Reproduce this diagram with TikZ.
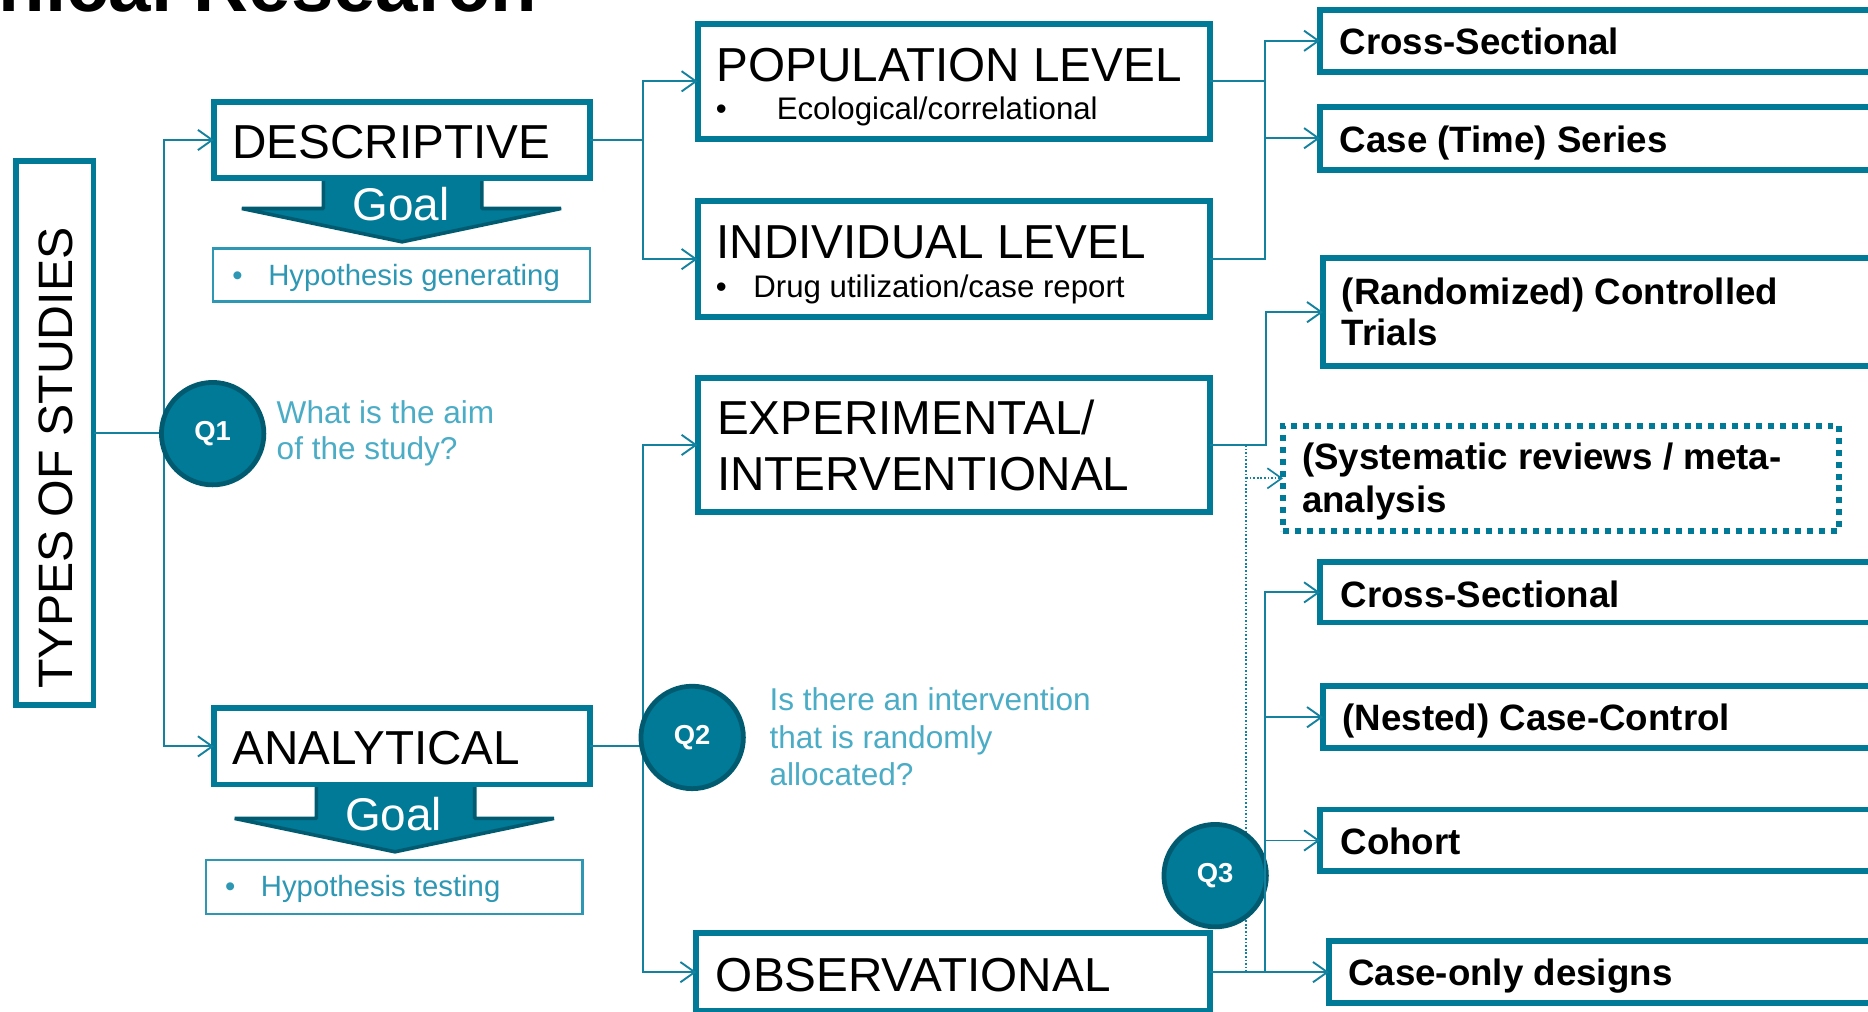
\documentclass[tikz,border=0pt]{standalone}
\usepackage{fontspec}
\setmainfont{Liberation Sans}
\usetikzlibrary{arrows.meta}

\definecolor{teal}{RGB}{0,122,150}
\definecolor{darkteal}{RGB}{0,90,112}
\definecolor{linec}{RGB}{20,130,158}
\definecolor{qc}{RGB}{75,172,198}
\definecolor{hypc}{RGB}{46,152,180}

% box from outer corners (x1,y1)-(x2,y2) with a given stroke width
\newcommand\placebox[7]{%
  \node[#1, minimum width={#5-#3-#7}, minimum height={#6-#4-#7}] (#2)
    at ({(#3+#5)/2},{(#4+#6)/2}) {};}

\tikzset{
  boxframe/.style={draw=teal, line width=5pt, rectangle, inner sep=0pt, outer sep=0pt, fill=white},
  thinframe/.style={draw=hypc, line width=2pt, rectangle, inner sep=0pt, outer sep=0pt},
  dotframe/.style={draw=teal, line width=5pt, dash pattern=on 5pt off 5pt, rectangle, inner sep=0pt, outer sep=0pt},
  qcircle/.style={circle, fill=teal, draw=darkteal, line width=4pt, minimum size=86pt, inner sep=0pt,
    text=white, font=\fontsize{23}{23}\selectfont\bfseries},
  goalarrow/.style={fill=teal, draw=darkteal, line width=3pt, line join=bevel},
  goaltext/.style={text=white, anchor=base, inner sep=0pt, font=\fontsize{38.5}{38.5}\selectfont},
  conn/.style={draw=linec, line width=1.6pt},
  arr/.style={conn, -{Straight Barb[length=12pt,width=17pt]}},
  dotconn/.style={draw=linec, line width=1.4pt, dash pattern=on 1.4pt off 1.6pt},
  txt/.style={anchor=base west, inner sep=0pt, outer sep=0pt},
  bigtxt/.style={txt, font=\fontsize{40}{40}\selectfont},
  smalltxt/.style={txt, font=\fontsize{26.2}{26.2}\selectfont},
  hyptxt/.style={txt, text=hypc, font=\fontsize{24.6}{24.6}\selectfont},
  boldtxt/.style={txt, font=\fontsize{30.8}{30.8}\selectfont\bfseries},
  qtxt/.style={txt, text=qc, font=\fontsize{26.5}{26.5}\selectfont},
}

\begin{document}
\begin{tikzpicture}[x=1pt,y=-1pt]
\useasboundingbox (0,0) rectangle (1568,849);
\clip (0,0) rectangle (1568,849);

% heading, mostly above the page
\node[anchor=base east, inner sep=0pt, font=\fontsize{64}{64}\selectfont\bfseries] (title) at (451,10) {Clinical Research};

% goal arrows below the two main branches
\draw[goalarrow] (271.5,150) -- (404.5,150) -- (404.5,175) -- (471,175) -- (337.5,203)
  -- (203,175) -- (271.5,175) -- cycle;
\draw[goalarrow] (265.5,659) -- (398.5,659) -- (398.5,687) -- (465,687) -- (331.5,715)
  -- (197,687) -- (265.5,687) -- cycle;

% boxes
\placebox{boxframe}{types}{11}{133}{81}{594}{5}
\placebox{boxframe}{desc}{177}{83}{498}{152}{5}
\placebox{boxframe}{anal}{177}{592}{498}{661}{5}
\placebox{thinframe}{hypgen}{178}{207.5}{496}{254}{2}
\placebox{thinframe}{hyptest}{172}{721}{490}{768}{2}
\placebox{boxframe}{pop}{583}{17.5}{1018}{119}{5}
\placebox{boxframe}{ind}{583}{166.5}{1018}{268.5}{5}
\placebox{boxframe}{exp}{583}{315}{1018}{432}{5}
\placebox{boxframe}{obs}{582}{781}{1018}{851}{5}
\placebox{boxframe}{cs1}{1105.5}{5.5}{1600}{63}{5}
\placebox{boxframe}{cts}{1105.5}{87}{1600}{145}{5}
\placebox{boxframe}{rct}{1108}{214}{1600}{310}{5}
\placebox{dotframe}{sys}{1074.5}{355}{1546.5}{448}{5}
\placebox{boxframe}{cs2}{1105.5}{469.5}{1600}{525}{5}
\placebox{boxframe}{ncc}{1108}{573.5}{1600}{630.5}{5}
\placebox{boxframe}{coh}{1105.5}{677}{1600}{734}{5}
\placebox{boxframe}{cod}{1113}{787.5}{1600}{844.5}{5}

% labels
\node[rotate=90, inner sep=0pt, font=\fontsize{40.5}{40.5}\selectfont] (typeslbl) at (47,384.5) {TYPES OF STUDIES};
\node[bigtxt] (desclbl) at (195,133) {DESCRIPTIVE};
\node[bigtxt] (anallbl) at (195,641.5) {ANALYTICAL};
\node[goaltext] (goal1) at (336.5,185.5) {Goal};
\node[goaltext] (goal2) at (330.5,697) {Goal};
\node[hyptxt] (hgb) at (195,240) {•};
\node[hyptxt] (hgt) at (225.2,240) {Hypothesis generating};
\node[hyptxt] (htb) at (189,752.7) {•};
\node[hyptxt] (htt) at (219,752.7) {Hypothesis testing};

\node[bigtxt] (poplbl) at (601.5,68) {POPULATION LEVEL};
\node[smalltxt] (popb) at (601,100.7) {•};
\node[smalltxt] (popt) at (652,100.7) {Ecological/correlational};
\node[bigtxt] (indlbl) at (601.5,217) {INDIVIDUAL LEVEL};
\node[smalltxt] (indb) at (601,250) {•};
\node[smalltxt] (indt) at (632.4,250) {Drug utilization/case report};
\node[bigtxt] (explbl1) at (602,364.3) {EXPERIMENTAL/};
\node[bigtxt] (explbl2) at (602,411.3) {INTERVENTIONAL};
\node[bigtxt] (obslbl) at (601,832.4) {OBSERVATIONAL};

\node[boldtxt] (cs1lbl) at (1124.6,45.9) {Cross-Sectional};
\node[boldtxt] (ctslbl) at (1124.6,128) {Case (Time) Series};
\node[boldtxt] (rctlbl1) at (1126.4,255.5) {(Randomized) Controlled};
\node[boldtxt] (rctlbl2) at (1126.4,290) {Trials};
\node[boldtxt] (syslbl1) at (1093,394.5) {(Systematic reviews / meta-};
\node[boldtxt] (syslbl2) at (1093,430.5) {analysis};
\node[boldtxt] (cs2lbl) at (1125.3,509.7) {Cross-Sectional};
\node[boldtxt] (ncclbl) at (1127,613.5) {(Nested) Case-Control};
\node[boldtxt] (cohlbl) at (1125.3,717.4) {Cohort};
\node[boldtxt] (codlbl) at (1131.7,827) {Case-only designs};

\node[qtxt] (q1a) at (232.3,355.3) {What is the aim};
\node[qtxt] (q1b) at (232.3,385.6) {of the study?};
\node[qtxt] (q2a) at (646,596.8) {Is there an intervention};
\node[qtxt] (q2b) at (646,628) {that is randomly};
\node[qtxt] (q2c) at (646,659) {allocated?};

% junction points of the connector trunks
\coordinate (t1) at (138,364);
\coordinate (j2) at (540,626.5);
\coordinate (j3) at (1061.5,0);
\coordinate (j4) at (1062.5,0);
\coordinate (j5) at (1046,0);
\coordinate (j6) at (1062,0);

% first question: descriptive or analytical
\draw[conn] (types.east) -- (types.east -| t1);
\draw[arr] (t1) |- (desc.west);
\draw[arr] (t1) |- (anal.west);

% descriptive branch
\draw[conn] (desc.east) -- (desc.east -| j2);
\draw[arr] (desc.east -| j2) |- (pop.west);
\draw[arr] (desc.east -| j2) |- (ind.west);
\draw[conn] (pop.east) -- (pop.east -| j3);
\draw[arr] (pop.east -| j3) |- (cs1.west);
\draw[arr] (pop.east -| j3) |- (cts.west);
\draw[conn] (ind.east) -| (pop.east -| j3);

% second question: experimental or observational
\draw[conn] (anal.east) -- (j2);
\draw[arr] (j2) |- (exp.west);
\draw[arr] (j2) |- (obs.west);

% experimental branch
\draw[arr] (exp.east) -- (exp.east -| j4) |- (rct.west);

% dotted link to reviews
\draw[dotconn] (exp.east -| j5) -- (obs.east -| j5);
\draw[dotconn, -{Straight Barb[length=12pt,width=17pt]}] (sys.west -| j5) -- (sys.west);

% question circles
\node[qcircle] (q1) at (178.5,364) {Q1};
\node[qcircle] (q2) at (581,619) {Q2};
\node[qcircle] (q3) at (1020,735) {Q3};

% observational branch
\draw[arr] (obs.east) -- (cod.west);
\draw[arr] (obs.east -| j6) |- (cs2.west);
\draw[arr] (ncc.west -| j6) -- (ncc.west);
\draw[arr] (coh.west -| j6) -- (coh.west);
\end{tikzpicture}
\end{document}
